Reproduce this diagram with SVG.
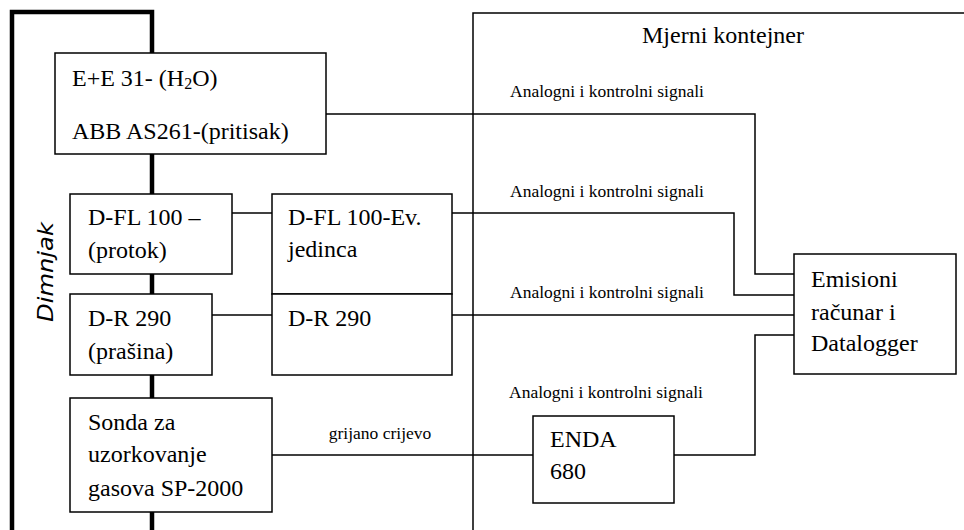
<svg xmlns="http://www.w3.org/2000/svg" width="964" height="530" viewBox="0 0 964 530">
<defs>
<style>
.box{fill:#fff;stroke:#000;stroke-width:1.5}
.wire{fill:none;stroke:#000;stroke-width:1.5}
.thick{fill:none;stroke:#000;stroke-width:4.5}
.t{font-size:24px;fill:#000}
.s{font-size:17.5px;fill:#000}
</style>
</defs>
<rect width="964" height="530" fill="#fff"/>
<g font-family="'Liberation Serif', Tinos, 'Times New Roman', Times, serif">
<g id="chimney">
<path class="thick" d="M12,530 V12 H152 V530"/>
<text x="45" y="272" transform="rotate(-90 45 272)" text-anchor="middle" dominant-baseline="central" font-family="'DejaVu Sans', sans-serif" font-style="italic" font-size="22" textLength="100" lengthAdjust="spacingAndGlyphs">Dimnjak</text>
</g>
<g id="container">
<path class="wire" d="M473,530 V13 H966"/>
<text class="t" x="723" y="43" text-anchor="middle">Mjerni kontejner</text>
</g>
<g id="connectors">
<path class="wire" d="M326,114 H755 V274 H794"/>
<path class="wire" d="M232,213 H272"/>
<path class="wire" d="M452,213 H734 V295 H794"/>
<path class="wire" d="M212,315 H272"/>
<path class="wire" d="M452,315 H794"/>
<path class="wire" d="M272,455 H533"/>
<path class="wire" d="M674,455 H755 V335 H794"/>
<text class="s" x="510" y="97">Analogni i kontrolni signali</text>
<text class="s" x="510" y="197">Analogni i kontrolni signali</text>
<text class="s" x="510" y="298">Analogni i kontrolni signali</text>
<text class="s" x="509" y="398">Analogni i kontrolni signali</text>
<text class="s" x="380" y="439" text-anchor="middle">grijano crijevo</text>
</g>
<g id="ee31">
<rect class="box" x="55" y="53" width="271" height="101"/>
<text class="t" x="72" y="86">E+E 31- (H<tspan font-size="16" dy="3">2</tspan><tspan dy="-3">O)</tspan></text>
<text class="t" x="72" y="139">ABB AS261-(pritisak)</text>
</g>
<g id="dfl100">
<rect class="box" x="70" y="194" width="162" height="80"/>
<text class="t" x="88" y="225">D-FL 100 –</text>
<text class="t" x="88" y="258">(protok)</text>
</g>
<g id="dr290">
<rect class="box" x="70" y="294" width="142" height="81"/>
<text class="t" x="88" y="326">D-R 290</text>
<text class="t" x="88" y="359">(prašina)</text>
</g>
<g id="dfl100ev">
<rect class="box" x="272" y="194" width="180" height="100"/>
<text class="t" x="288" y="225">D-FL 100-Ev.</text>
<text class="t" x="288" y="257">jedinca</text>
</g>
<g id="dr290ev">
<rect class="box" x="272" y="294" width="180" height="81"/>
<text class="t" x="288" y="326">D-R 290</text>
</g>
<g id="sonda">
<rect class="box" x="70" y="398" width="202" height="114"/>
<text class="t" x="88" y="430">Sonda za</text>
<text class="t" x="88" y="462">uzorkovanje</text>
<text class="t" x="88" y="496">gasova SP-2000</text>
</g>
<g id="enda">
<rect class="box" x="533" y="416" width="141" height="87"/>
<text class="t" x="550" y="447">ENDA</text>
<text class="t" x="550" y="479">680</text>
</g>
<g id="emisioni">
<rect class="box" x="794" y="254" width="162" height="120"/>
<text class="t" x="811" y="287">Emisioni</text>
<text class="t" x="811" y="320">računar i</text>
<text class="t" x="811" y="351">Datalogger</text>
</g>
</g>
</svg>
